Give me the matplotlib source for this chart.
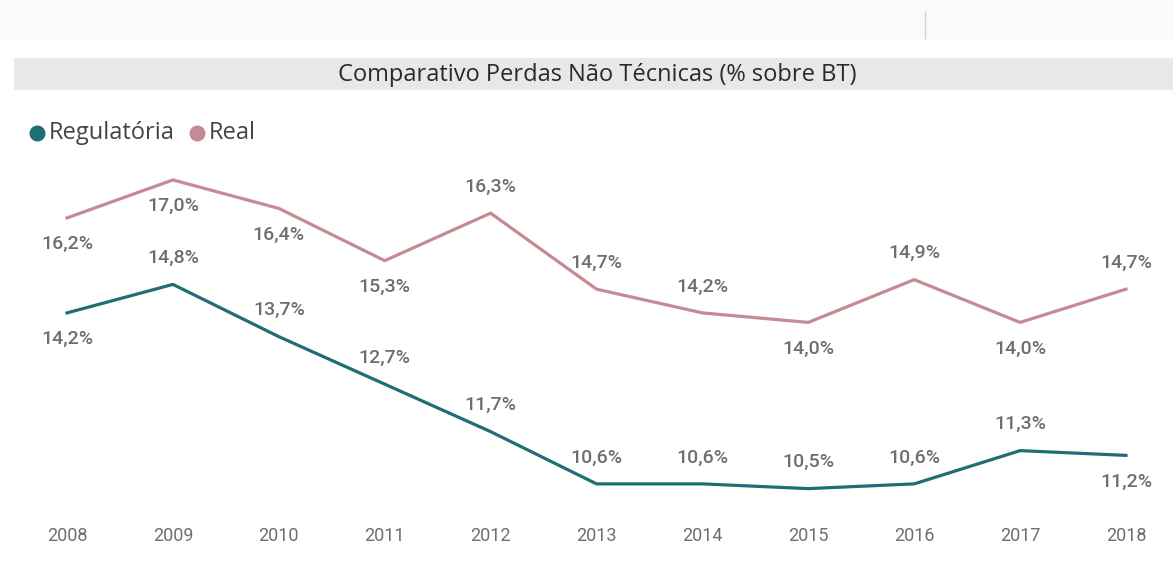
import matplotlib.pyplot as plt
from matplotlib.patches import Rectangle
from matplotlib.lines import Line2D

years = [2008, 2009, 2010, 2011, 2012, 2013, 2014, 2015, 2016, 2017, 2018]
regulatoria = [14.2, 14.8, 13.7, 12.7, 11.7, 10.6, 10.6, 10.5, 10.6, 11.3, 11.2]
real = [16.2, 17.0, 16.4, 15.3, 16.3, 14.7, 14.2, 14.0, 14.9, 14.0, 14.7]
# label side: 1 above, -1 below
reg_side = [-1, 1, 1, 1, 1, 1, 1, 1, 1, 1, -1]
real_side = [-1, -1, -1, -1, 1, 1, 1, -1, 1, -1, 1]

TEAL = "#1f6d75"
ROSE = "#c58a92"
GRAY = "#6e6e6e"
LBL_FONT = ["Roboto", "DejaVu Sans"]
UI_FONT = ["Open Sans", "DejaVu Sans"]

fig = plt.figure(figsize=(11.73, 5.70), dpi=100)
fig.patch.set_facecolor("white")

# top strip and title bar
fig.patches.append(Rectangle((0, 1 - 40 / 570), 1, 40 / 570, transform=fig.transFigure,
                             facecolor="#fafafa", edgecolor="none"))
fig.lines.append(Line2D([925 / 1173] * 2, [1 - 12 / 570, 1 - 38 / 570],
                        transform=fig.transFigure, color="#cfcfcf", lw=1))
fig.patches.append(Rectangle((14 / 1173, 1 - 90 / 570), 1, 32 / 570, transform=fig.transFigure,
                             facecolor="#e8e8e8", edgecolor="none"))
fig.text(597 / 1173, 1 - 75 / 570, "Comparativo Perdas Não Técnicas (% sobre BT)",
         ha="center", va="center", fontsize=17, color="#2a2a2a", family=UI_FONT)

# legend
fig.lines.append(Line2D([37 / 1173], [1 - 133 / 570], transform=fig.transFigure,
                        marker="o", ms=10.5, color=TEAL, ls="none"))
fig.text(49 / 1173, 1 - 133 / 570, "Regulatória", ha="left", va="center",
         fontsize=17, color="#444444", family=UI_FONT)
fig.lines.append(Line2D([197 / 1173], [1 - 133 / 570], transform=fig.transFigure,
                        marker="o", ms=10.5, color=ROSE, ls="none"))
fig.text(209 / 1173, 1 - 133 / 570, "Real", ha="left", va="center",
         fontsize=17, color="#444444", family=UI_FONT)

ax = fig.add_axes([0, 60 / 570, 1, 360 / 570])
ax.set_facecolor("none")
ax.plot(years, real, color=ROSE, lw=2.3)
ax.plot(years, regulatoria, color=TEAL, lw=2.3)

for x, v, s in zip(years, real, real_side):
    ax.annotate(f"{v:.1f}%".replace(".", ","), (x, v), xytext=(0, 19 * s),
                textcoords="offset points", ha="center", va="center",
                fontsize=14, color=GRAY, family=LBL_FONT, weight="medium")
for x, v, s in zip(years, regulatoria, reg_side):
    ax.annotate(f"{v:.1f}%".replace(".", ","), (x, v), xytext=(0, 19 * s),
                textcoords="offset points", ha="center", va="center",
                fontsize=14, color=GRAY, family=LBL_FONT, weight="medium")

ax.set_xlim(2007.367, 2018.444)
ax.set_ylim(10.05, 17.63)
ax.set_xticks(years)
ax.set_xticklabels([str(y) for y in years], color=GRAY, fontsize=13, family=LBL_FONT)
ax.tick_params(axis="x", length=0, pad=12)
ax.set_yticks([])
for sp in ax.spines.values():
    sp.set_visible(False)

fig.savefig("out.png", dpi=100)
